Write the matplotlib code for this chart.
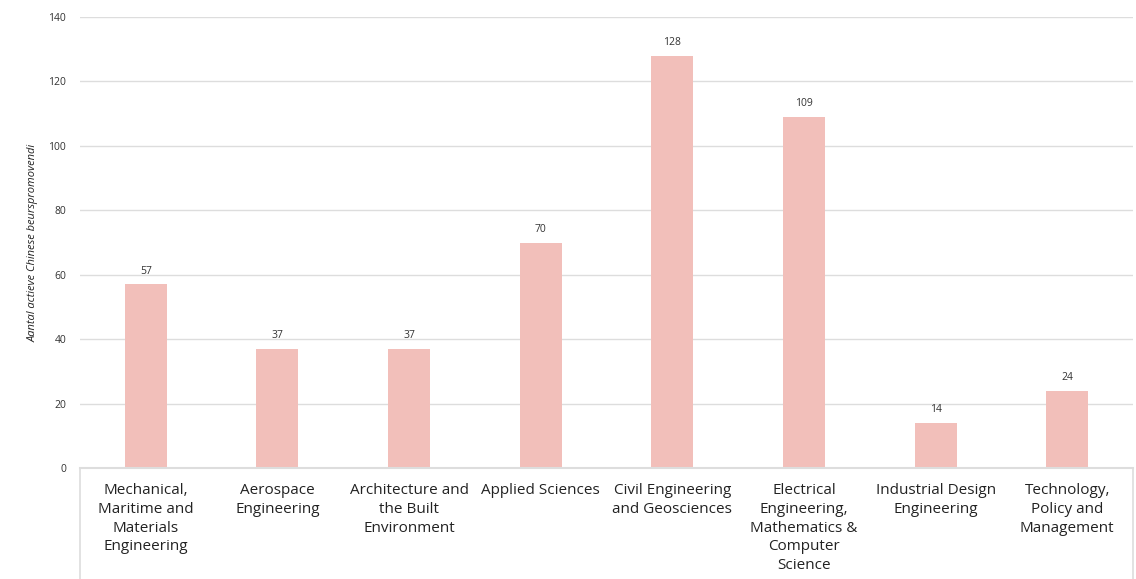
import numpy as np
import matplotlib.pyplot as plt

categories = ['Mechanical,\nMaritime and\nMaterials\nEngineering',
              'Aerospace\nEngineering',
              'Architecture and\nthe Built\nEnvironment',
              'Applied Sciences',
              'Civil Engineering\nand Geosciences',
              'Electrical\nEngineering,\nMathematics &\nComputer\nScience',
              'Industrial Design\nEngineering',
              'Technology,\nPolicy and\nManagement']
values = [57, 37, 37, 70, 128, 109, 14, 24]
yticks = [0, 20, 40, 60, 80, 100, 120, 140]

plt.rcParams['font.family'] = ['Open Sans', 'DejaVu Sans']

fig = plt.figure(figsize=(11.36, 5.79), dpi=100)
ax = fig.add_axes([80/1136, 111/579, 1053/1136, 451/579])

x = np.arange(len(values))
ax.bar(x, values, width=0.32, color='#F2BFBA', zorder=2)
for xi, v in zip(x, values):
    ax.text(xi, v + 2.3, str(v), ha='center', va='bottom', fontsize=7.5, color='#333333')

ax.set_xlim(-0.5, len(values) - 0.5)
ax.set_ylim(0, 140)
ax.set_yticks(yticks)
ax.yaxis.grid(True, color='#DDDDDD', linewidth=1, zorder=0)
ax.tick_params(axis='y', length=0, pad=10, labelsize=7.5, labelcolor='#333333')
ax.set_xticks(x)
ax.set_xticklabels(categories, fontsize=11, color='#222222', linespacing=1.33)
ax.tick_params(axis='x', length=0, pad=11)
for s in ['top', 'right', 'left']:
    ax.spines[s].set_visible(False)
ax.spines['bottom'].set_color('#DDDDDD')
ax.spines['bottom'].set_linewidth(1.5)

# box lines under the category axis
for xb in [0, 1]:
    ax.plot([xb, xb], [0, -0.3], transform=ax.transAxes, color='#DDDDDD',
            linewidth=1.2, clip_on=False)

ax.set_ylabel('Aantal actieve Chinese beurspromovendi', fontsize=8, style='italic',
              color='#222222', labelpad=7)

fig.savefig('out.png', dpi=100)
